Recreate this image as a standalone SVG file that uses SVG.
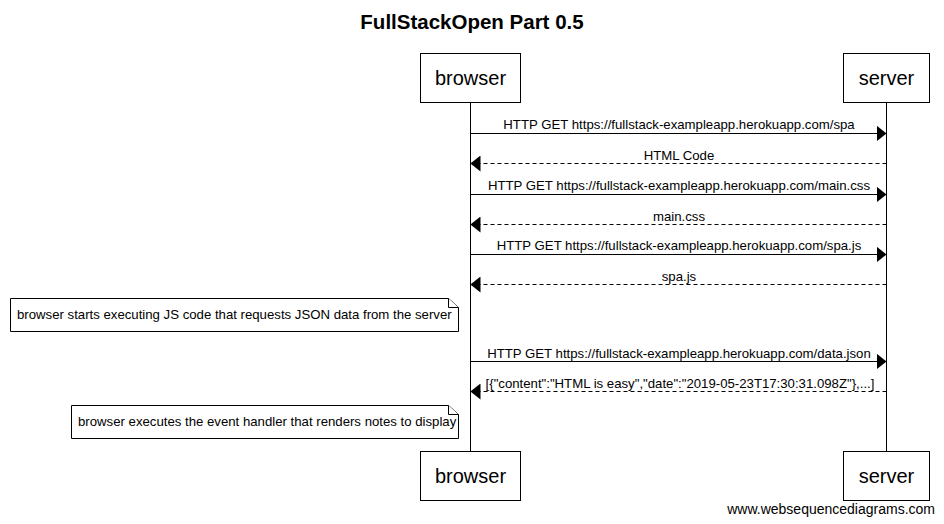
<svg xmlns="http://www.w3.org/2000/svg" width="944" height="524" viewBox="0 0 944 524">
<style>
.box{fill:#fff;stroke:#000;stroke-width:1}
.life{stroke:#000;stroke-width:1}
.pt{font-family:"Liberation Sans",Arial,sans-serif;font-size:20px;fill:#000;text-anchor:middle}
.msg{stroke:#000;stroke-width:1;fill:none}
.dash{stroke-dasharray:4,3}
.lbl{font-family:"Liberation Sans",Arial,sans-serif;font-size:13.2px;fill:#000;text-anchor:middle}
.note{fill:#fff;stroke:#000;stroke-width:1}
.nt{font-family:"Liberation Sans",Arial,sans-serif;font-size:13.2px;fill:#000}
</style>
<defs>
<marker id="ah" markerWidth="10" markerHeight="16" refX="10" refY="8" orient="auto" markerUnits="userSpaceOnUse">
<path d="M0,0 L10,8 L0,16 Z" fill="#000"/>
</marker>
</defs>
<rect width="944" height="524" fill="#fff"/>
<text x="472" y="29" font-family="'Liberation Sans',Arial,sans-serif" font-size="20.5" font-weight="bold" text-anchor="middle">FullStackOpen Part 0.5</text>
<g id="lifelines">
<line class="life" x1="470.5" y1="102" x2="470.5" y2="452"/>
<line class="life" x1="886.5" y1="102" x2="886.5" y2="452"/>
</g>
<g id="browser">
<rect class="box" x="420.5" y="53.5" width="100" height="49"/>
<text class="pt" x="470.5" y="85">browser</text>
<rect class="box" x="420.5" y="451.5" width="100" height="49"/>
<text class="pt" x="470.5" y="483">browser</text>
</g>
<g id="server">
<rect class="box" x="843.5" y="53.5" width="86" height="49"/>
<text class="pt" x="886.5" y="85">server</text>
<rect class="box" x="843.5" y="451.5" width="86" height="49"/>
<text class="pt" x="886.5" y="483">server</text>
</g>
<g id="connectors">
<line class="msg" x1="470.5" y1="133.5" x2="886.5" y2="133.5" marker-end="url(#ah)"/>
<line class="msg dash" x1="886.5" y1="163.5" x2="470.5" y2="163.5" marker-end="url(#ah)"/>
<line class="msg" x1="470.5" y1="194.5" x2="886.5" y2="194.5" marker-end="url(#ah)"/>
<line class="msg dash" x1="886.5" y1="224.5" x2="470.5" y2="224.5" marker-end="url(#ah)"/>
<line class="msg" x1="470.5" y1="254.5" x2="886.5" y2="254.5" marker-end="url(#ah)"/>
<line class="msg dash" x1="886.5" y1="284.5" x2="470.5" y2="284.5" marker-end="url(#ah)"/>
<line class="msg" x1="470.5" y1="361.5" x2="886.5" y2="361.5" marker-end="url(#ah)"/>
<line class="msg dash" x1="886.5" y1="391.5" x2="470.5" y2="391.5" marker-end="url(#ah)"/>
<text class="lbl" x="679" y="129">HTTP GET https://fullstack-exampleapp.herokuapp.com/spa</text>
<text class="lbl" x="679" y="160">HTML Code</text>
<text class="lbl" x="679" y="190">HTTP GET https://fullstack-exampleapp.herokuapp.com/main.css</text>
<text class="lbl" x="679" y="221">main.css</text>
<text class="lbl" x="679" y="250">HTTP GET https://fullstack-exampleapp.herokuapp.com/spa.js</text>
<text class="lbl" x="679" y="281">spa.js</text>
<text class="lbl" x="679" y="358">HTTP GET https://fullstack-exampleapp.herokuapp.com/data.json</text>
<text class="lbl" x="680" y="388">[{"content":"HTML is easy","date":"2019-05-23T17:30:31.098Z"},...]</text>
</g>
<g id="note1">
<path class="note" d="M10.5,298.5 H448.5 L458.5,307.5 V331.5 H10.5 Z"/>
<path class="note" d="M448.5,298.5 V307.5 H458.5"/>
<text class="nt" x="17" y="319">browser starts executing JS code that requests JSON data from the server</text>
</g>
<g id="note2">
<path class="note" d="M71.5,405.5 H448.5 L458.5,414.5 V438.5 H71.5 Z"/>
<path class="note" d="M448.5,405.5 V414.5 H458.5"/>
<text class="nt" x="78" y="426">browser executes the event handler that renders notes to display</text>
</g>
<text x="935" y="514" font-family="'Liberation Sans',Arial,sans-serif" font-size="14" text-anchor="end">www.websequencediagrams.com</text>
</svg>
